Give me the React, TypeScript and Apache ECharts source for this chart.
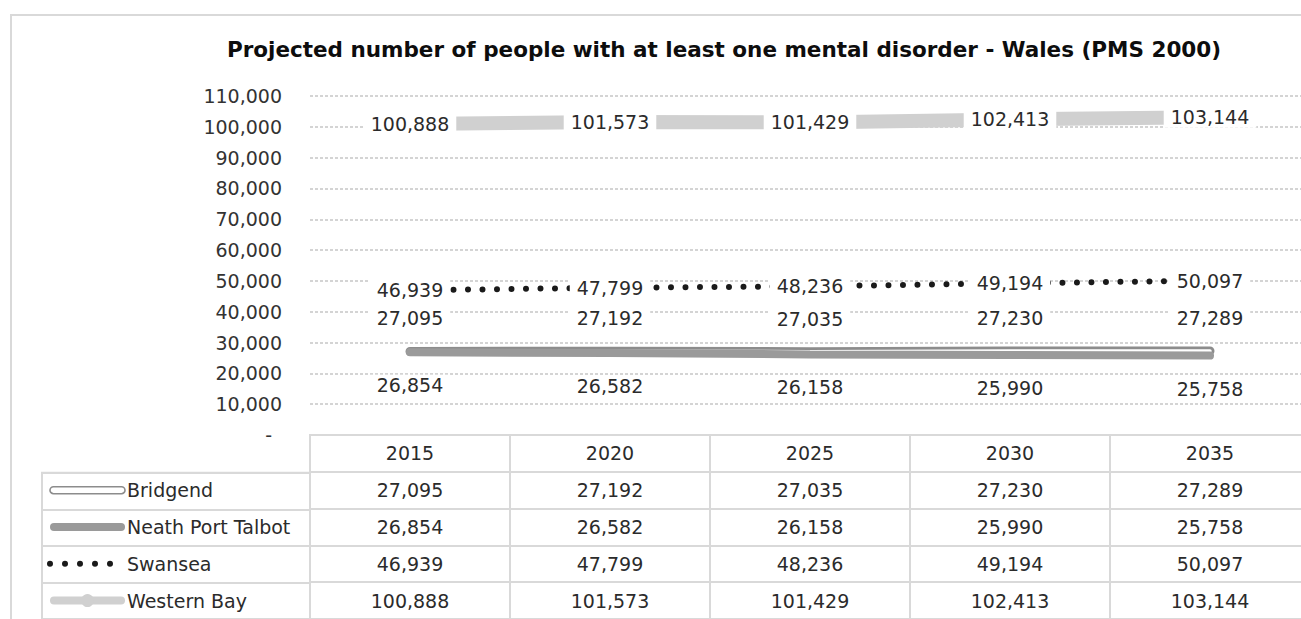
import React, { useEffect, useRef } from "react";
import * as echarts from "echarts";

const chartTitle = "Projected number of people with at least one mental disorder - Wales (PMS 2000)";
const years = ["2015", "2020", "2025", "2030", "2035"];
const seriesNames = ["Bridgend", "Neath Port Talbot", "Swansea", "Western Bay"];
const bridgend = [27095, 27192, 27035, 27230, 27289];
const neathPortTalbot = [26854, 26582, 26158, 25990, 25758];
const swansea = [46939, 47799, 48236, 49194, 50097];
const westernBay = [100888, 101573, 101429, 102413, 103144];
const yMin = 0;
const yMax = 110000;
const yInterval = 10000;

const FONT = "DejaVu Sans";
const fmt = (v: number) => Number(v).toLocaleString("en-US");

export default function App() {
  const ref = useRef<HTMLDivElement>(null);

  useEffect(() => {
    const el = ref.current as HTMLDivElement;
    const chart = echarts.init(el, null, { renderer: "svg" });

    const rowNames = ["", ...seriesNames];
    const tableRows: string[][] = [
      years,
      bridgend.map(fmt),
      neathPortTalbot.map(fmt),
      swansea.map(fmt),
      westernBay.map(fmt),
    ];
    const cells: any[] = [];
    tableRows.forEach((row, r) =>
      row.forEach((txt, c) => cells.push({ value: [c, r], text: txt }))
    );

    const labelBase: any = {
      show: true,
      fontFamily: FONT,
      fontSize: 19,
      color: "#2b2b2b",
      backgroundColor: "#fff",
      padding: [1, 7],
      formatter: (p: any) => fmt(p.value),
    };
    const gridLine = { color: "#d9d9d9", width: 2 };

    chart.setOption({
      animation: false,
      backgroundColor: "#fff",
      title: {
        text: chartTitle,
        left: 724,
        top: 38,
        padding: 0,
        textAlign: "center",
        textStyle: { fontFamily: FONT, fontWeight: "bold", fontSize: 21.5, color: "#0d0d0d" },
      },
      grid: [
        { left: 310, top: 96, width: 1000, height: 339 },
        {
          left: 310, top: 435, width: 1000, height: 189, show: true,
          borderColor: "#d9d9d9", borderWidth: 2, backgroundColor: "transparent",
        },
        {
          left: 42, top: 472.8, width: 268, height: 151.2, show: true,
          borderColor: "#d9d9d9", borderWidth: 2, backgroundColor: "transparent",
        },
      ],
      xAxis: [
        {
          type: "category", gridIndex: 0, data: years, boundaryGap: true,
          axisLine: { show: false }, axisTick: { show: false }, axisLabel: { show: false },
          splitLine: { show: false },
        },
        {
          type: "category", gridIndex: 1, data: years, boundaryGap: true,
          axisLine: { show: false }, axisTick: { show: false }, axisLabel: { show: false },
          splitLine: { show: true, interval: 0, lineStyle: gridLine },
        },
        { type: "value", gridIndex: 2, show: false },
      ],
      yAxis: [
        {
          type: "value", gridIndex: 0, min: yMin, max: yMax, interval: yInterval,
          axisLine: { show: false }, axisTick: { show: false },
          axisLabel: {
            margin: 28, fontFamily: FONT, fontSize: 19, color: "#333",
            formatter: (v: number) => (v === 0 ? "{z|-}" : fmt(v)),
            rich: { z: { fontFamily: FONT, fontSize: 19, color: "#333", padding: [0, 10, 0, 0] } },
          },
          splitLine: { show: true, lineStyle: { color: "#d4d4d4", width: 2, type: [3, 2] } },
        },
        {
          type: "category", gridIndex: 1, data: rowNames, inverse: true,
          axisLine: { show: false }, axisTick: { show: false },
          axisLabel: {
            interval: 0, margin: 183, align: "left", fontFamily: FONT, fontSize: 19, color: "#2b2b2b",
          },
          splitLine: { show: true, interval: 0, lineStyle: gridLine },
        },
        {
          type: "category", gridIndex: 2, data: seriesNames, inverse: true,
          axisLine: { show: false }, axisTick: { show: false }, axisLabel: { show: false },
          splitLine: { show: true, interval: 0, lineStyle: gridLine },
        },
      ],
      series: [
        {
          name: "Bridgend", type: "line", data: bridgend,
          lineStyle: { color: "#8c8c8c", width: 9, cap: "round" },
          symbol: "circle", symbolSize: 1, itemStyle: { color: "rgba(0,0,0,0)" },
          label: { ...labelBase, position: "top", distance: 22 },
          emphasis: { disabled: true }, z: 2,
        },
        {
          name: "Bridgend inner", type: "line", data: bridgend,
          lineStyle: { color: "#ffffff", width: 3.5, cap: "round" },
          symbol: "none", silent: true, emphasis: { disabled: true }, z: 2,
        },
        {
          name: "Neath Port Talbot", type: "line", data: neathPortTalbot,
          lineStyle: { color: "#9a9a9a", width: 8, cap: "round" },
          symbol: "circle", symbolSize: 1, itemStyle: { color: "rgba(0,0,0,0)" },
          label: { ...labelBase, position: "bottom", distance: 22 },
          emphasis: { disabled: true }, z: 2,
        },
        {
          name: "Swansea", type: "line", data: swansea,
          lineStyle: { color: "#1a1a1a", width: 6, type: [0, 14.5], cap: "round" },
          symbol: "circle", symbolSize: 1, itemStyle: { color: "rgba(0,0,0,0)" },
          label: { ...labelBase, position: "inside" },
          emphasis: { disabled: true }, z: 2,
        },
        {
          name: "Western Bay", type: "line", data: westernBay,
          lineStyle: { color: "#d0d0d0", width: 14 },
          symbol: "circle", symbolSize: 1, itemStyle: { color: "rgba(0,0,0,0)" },
          label: { ...labelBase, position: "inside" },
          emphasis: { disabled: true }, z: 2,
        },
        {
          name: "table", type: "scatter", xAxisIndex: 1, yAxisIndex: 1, data: cells,
          symbolSize: 1, itemStyle: { color: "rgba(0,0,0,0)", opacity: 1 }, silent: true,
          label: {
            show: true, position: "inside", fontFamily: FONT, fontSize: 19, color: "#2b2b2b",
            opacity: 1, textBorderWidth: 0,
            formatter: (p: any) => p.data.text,
          },
          emphasis: { disabled: true },
        },
      ],
    });

    const yOf = (name: string) => chart.convertToPixel({ yAxisIndex: 1 }, name) as number;
    const yB = yOf(seriesNames[0]);
    const yN = yOf(seriesNames[1]);
    const yS = yOf(seriesNames[2]);
    const yW = yOf(seriesNames[3]);
    const x0 = 50;
    const x1 = 125;

    chart.setOption({
      graphic: [
        {
          type: "rect", silent: true, z: 0,
          shape: { x: 11, y: 15, width: 1400, height: 700 },
          style: { fill: "none", stroke: "#d9d9d9", lineWidth: 2 },
        },
        {
          type: "rect", silent: true,
          shape: { x: x0, y: yB - 3.5, width: x1 - x0, height: 7, r: 3.5 },
          style: { fill: "#fff", stroke: "#8c8c8c", lineWidth: 1.6 },
        },
        {
          type: "line", silent: true,
          shape: { x1: x0 + 4, y1: yN, x2: x1 - 4, y2: yN },
          style: { stroke: "#9a9a9a", lineWidth: 8, lineCap: "round" },
        },
        {
          type: "line", silent: true,
          shape: { x1: x0, y1: yS, x2: x1, y2: yS },
          style: { stroke: "#1a1a1a", lineWidth: 6, lineDash: [0, 15], lineCap: "round" },
        },
        {
          type: "line", silent: true,
          shape: { x1: x0 + 4, y1: yW, x2: x1 - 4, y2: yW },
          style: { stroke: "#d0d0d0", lineWidth: 8, lineCap: "round" },
        },
        {
          type: "circle", silent: true,
          shape: { cx: (x0 + x1) / 2, cy: yW, r: 6.5 },
          style: { fill: "#d0d0d0" },
        },
      ],
    });

    return () => chart.dispose();
  }, []);

  return (
    <div
      style={{
        position: "fixed", left: 0, top: 0, width: 1301, height: 619,
        overflow: "hidden", background: "#fff",
      }}
    >
      <div ref={ref} style={{ width: 1320, height: 619 }} />
    </div>
  );
}
